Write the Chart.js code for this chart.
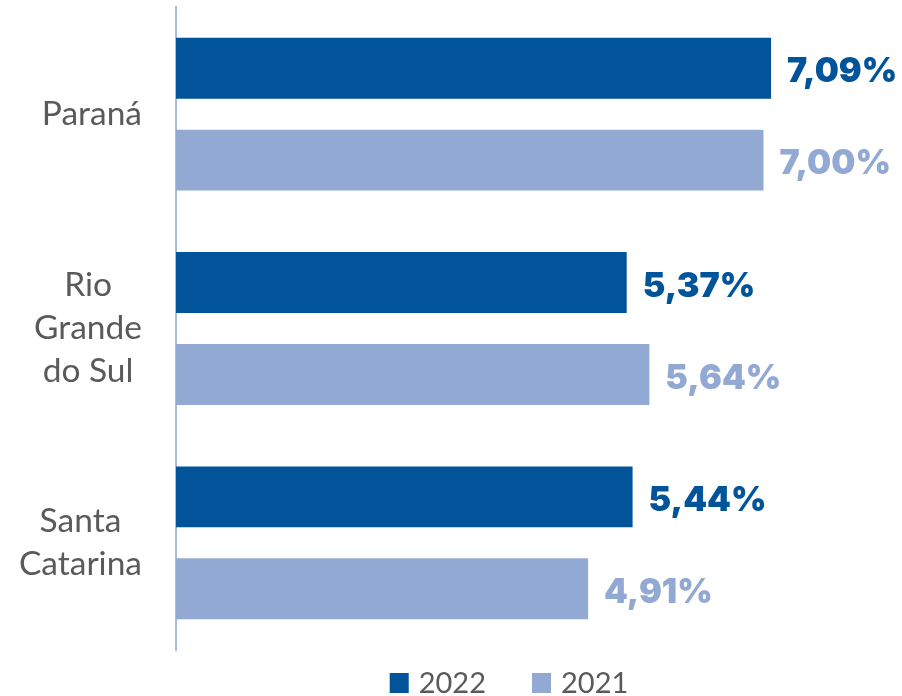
<!DOCTYPE html>
<html>
<head>
<meta charset="utf-8">
<script src="https://cdn.jsdelivr.net/npm/chart.js@4/dist/chart.umd.min.js"></script>
<style>
html,body{margin:0;padding:0;background:#fff;}
#wrap{width:902px;height:696px;position:relative;}
</style>
</head>
<body>
<div id="wrap"><canvas id="c"></canvas></div>
<script>
const categories = [["Paraná"], ["Rio", "Grande", "do Sul"], ["Santa", "Catarina"]];
const seriesNames = ["2022", "2021"];
const values2022 = [7.09, 5.37, 5.44];
const values2021 = [7.00, 5.64, 4.91];

const DARK = "#02549a";
const LIGHT = "#92a9d3";
const GRAY = "#5a5a5a";
const LABEL_FONT = "33.5px Lato";
const VALUE_FONT = "900 34px Inter";
const LEGEND_FONT = "29px Lato";

function fmt(v){ return v.toFixed(2).replace(".", ",") + "%"; }

const customDraw = {
  id: "customDraw",
  afterDatasetsDraw(chart){
    const ctx = chart.ctx;
    chart.data.datasets.forEach((ds, di) => {
      const meta = chart.getDatasetMeta(di);
      meta.data.forEach((bar, i) => {
        ctx.save();
        ctx.font = VALUE_FONT;
        ctx.fillStyle = ds.backgroundColor;
        ctx.textAlign = "left";
        ctx.textBaseline = "middle";
        ctx.fillText(fmt(ds.data[i]), bar.x + 16, bar.y + 4);
        ctx.restore();
      });
    });
    const y = chart.scales.y;
    const rightEdge = 142;
    const lineH = 43;
    ctx.save();
    ctx.font = LABEL_FONT;
    ctx.fillStyle = GRAY;
    ctx.textAlign = "center";
    ctx.textBaseline = "middle";
    categories.forEach((lines, i) => {
      const cy = y.getPixelForValue(i);
      const widest = Math.max(...lines.map(l => ctx.measureText(l).width));
      const cx = rightEdge - widest / 2;
      const start = cy - (lines.length - 1) * lineH / 2;
      lines.forEach((l, k) => ctx.fillText(l, cx, start + k * lineH));
    });
    ctx.restore();
    ctx.save();
    ctx.font = LEGEND_FONT;
    ctx.textBaseline = "middle";
    ctx.textAlign = "left";
    const box = 19, gapText = 10, gapItem = 46, ly = 683;
    const items = chart.data.datasets.map(d => ({t: d.label, c: d.backgroundColor, w: ctx.measureText(d.label).width}));
    const total = items.reduce((s, it) => s + box + gapText + it.w, 0) + gapItem * (items.length - 1);
    let x = 509 - total / 2;
    items.forEach(it => {
      ctx.fillStyle = it.c;
      ctx.fillRect(x, ly - 10, box, 20);
      ctx.fillStyle = GRAY;
      ctx.fillText(it.t, x + box + gapText, ly + 1);
      x += box + gapText + it.w + gapItem;
    });
    ctx.restore();
  }
};

new Chart(document.getElementById("c"), {
  type: "bar",
  data: {
    labels: categories,
    datasets: [
      {label: seriesNames[0], data: values2022, backgroundColor: DARK},
      {label: seriesNames[1], data: values2021, backgroundColor: LIGHT}
    ]
  },
  options: {
    indexAxis: "y",
    responsive: true,
    maintainAspectRatio: false,
    animation: false,
    devicePixelRatio: 1,
    categoryPercentage: 0.858,
    barPercentage: 0.663,
    layout: {padding: {top: 7, bottom: 46, left: 0, right: 0}},
    plugins: {legend: {display: false}, tooltip: {enabled: false}},
    scales: {
      x: {display: false, min: 0, max: 8.65},
      y: {
        grid: {display: false, drawTicks: false},
        border: {display: true, color: "#a8bbdd", width: 2},
        ticks: {display: false},
        afterFit(scale){ scale.width = 176; }
      }
    }
  },
  plugins: [customDraw]
});
</script>
</body>
</html>
